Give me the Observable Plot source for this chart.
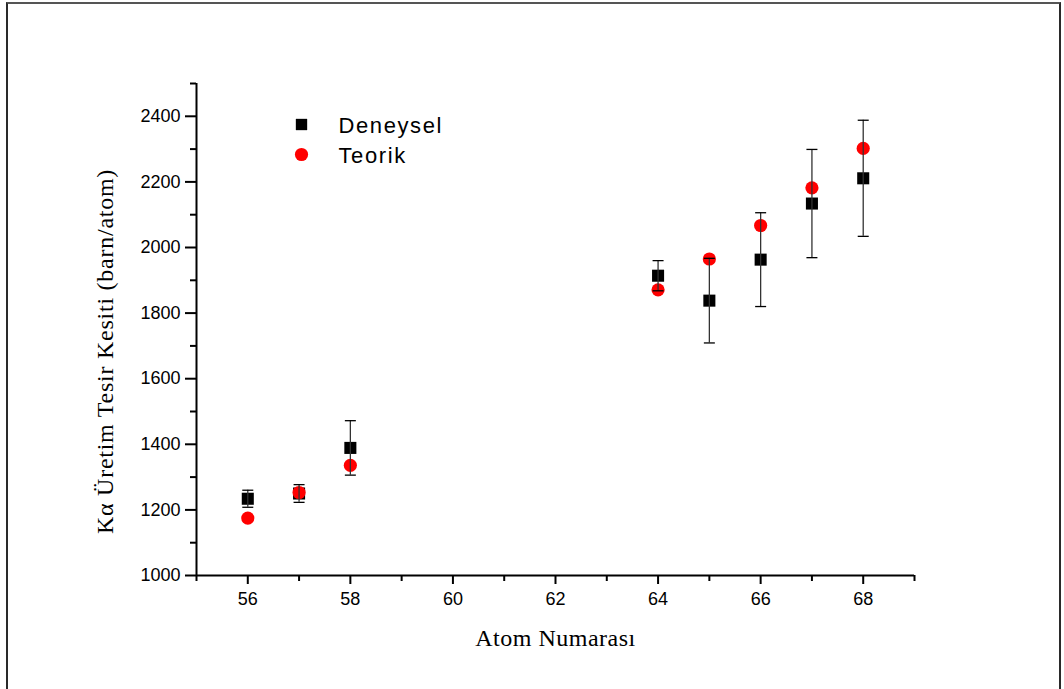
<!DOCTYPE html>
<html>
<head>
<meta charset="utf-8">
<script src="https://cdn.jsdelivr.net/npm/d3@7"></script>
<script src="https://cdn.jsdelivr.net/npm/@observablehq/plot@0.6"></script>
<style>
  html, body { margin: 0; padding: 0; background: #fff; overflow: hidden; }
  #wrap { position: relative; width: 1064px; height: 689px; }
  #frame { position: absolute; left: 6px; top: 2px; width: 1051px; height: 720px;
           border: 2px solid #2a2a2a; border-top-color: #555; box-sizing: content-box; }
  #chart { position: absolute; left: 0; top: 0; }
  .legtext text { letter-spacing: 1.6px; }
  .axlabel text { letter-spacing: 0.5px; }
  .ylabel text { letter-spacing: 0.75px; }
</style>
</head>
<body>
<div id="wrap"><div id="frame"></div><div id="chart"></div></div>
<script>
// ---- data ----
const atomNo   = [56, 57, 58, 64, 65, 66, 67, 68];
const deneysel = [1234, 1250, 1389, 1914, 1838, 1963, 2134, 2211];
const hata     = [26, 27, 83, 46, 129, 143, 165, 177];
const teorik   = [1175, 1253, 1336, 1871, 1965, 2067, 2182, 2302];

const xMajor = [56, 58, 60, 62, 64, 66, 68];
const xMinor = [55, 57, 59, 61, 63, 65, 67, 69];
const yMajor = [1000, 1200, 1400, 1600, 1800, 2000, 2200, 2400];
const yMinor = [1100, 1300, 1500, 1700, 1900, 2100, 2300, 2500];

const seriesNames = ["Deneysel", "Teorik"];
const xTitle = "Atom Numarası";
const yTitle = "Kα Üretim Tesir Kesiti (barn/atom)";

const exp = atomNo.map((z, i) => ({z, v: deneysel[i], lo: deneysel[i] - hata[i], hi: deneysel[i] + hata[i]}));
const th  = atomNo.map((z, i) => ({z, v: teorik[i]}));

const capSymbol = {
  draw(ctx, size) { const w = 5.5; ctx.moveTo(-w, 0); ctx.lineTo(w, 0); }
};

const sans = "Liberation Sans, Arial, sans-serif";
const serif = "Liberation Serif, Times New Roman, serif";

const chart = Plot.plot({
  width: 1064,
  height: 689,
  marginLeft: 196,
  marginRight: 150,
  marginTop: 83,
  marginBottom: 114,
  style: {fontFamily: sans, fontSize: "18px", color: "#000", background: "transparent"},
  x: {domain: [55, 69]},
  y: {domain: [1000, 2500]},
  marks: [
    Plot.axisX({ticks: xMajor, tickSize: 9, tickPadding: 8, strokeWidth: 2, tickFormat: d => String(d), label: null, fontSize: 18}),
    Plot.axisX({ticks: xMinor, tickSize: 6, strokeWidth: 2, tickFormat: () => "", label: null}),
    Plot.axisY({ticks: yMajor, tickSize: 11, tickPadding: 5, strokeWidth: 2, tickFormat: d => String(d), label: null, fontSize: 18}),
    Plot.axisY({ticks: yMinor, tickSize: 6, strokeWidth: 2, tickFormat: () => "", label: null}),
    Plot.ruleX([55], {strokeWidth: 2}),
    Plot.ruleY([1000], {strokeWidth: 2}),
    // experimental squares
    Plot.dot(exp, {x: "z", y: "v", symbol: "square", r: 6.8, fill: "#000", stroke: "none"}),
    // theoretical circles
    Plot.dot(th, {x: "z", y: "v", symbol: "circle", r: 6.6, fill: "#ff0000", stroke: "none"}),
    // error bars
    Plot.ruleX(exp, {x: "z", y1: "lo", y2: "hi", stroke: "#333", strokeWidth: 1.3}),
    Plot.dot(exp, {x: "z", y: "lo", symbol: capSymbol, stroke: "#000", fill: "none", strokeWidth: 1.3}),
    Plot.dot(exp, {x: "z", y: "hi", symbol: capSymbol, stroke: "#000", fill: "none", strokeWidth: 1.3}),
    // legend
    Plot.dot([seriesNames[0]], {frameAnchor: "top-left", dx: 105, dy: 41, symbol: "square", r: 6.4, fill: "#000", stroke: "none"}),
    Plot.dot([seriesNames[1]], {frameAnchor: "top-left", dx: 105, dy: 71, symbol: "circle", r: 6.6, fill: "#ff0000", stroke: "none"}),
    Plot.text([seriesNames[0]], {text: d => d, frameAnchor: "top-left", dx: 142, dy: 42, textAnchor: "start", lineAnchor: "middle", fontSize: 22, fontFamily: sans, fill: "#000", className: "legtext"}),
    Plot.text([seriesNames[1]], {text: d => d, frameAnchor: "top-left", dx: 142, dy: 72, textAnchor: "start", lineAnchor: "middle", fontSize: 22, fontFamily: sans, fill: "#000", className: "legtext"}),
    // axis titles
    Plot.text([xTitle], {text: d => d, frameAnchor: "bottom", dy: 63, textAnchor: "middle", lineAnchor: "middle", fontSize: 24, fontFamily: serif, fill: "#000", className: "axlabel"}),
    Plot.text([yTitle], {text: d => d, frameAnchor: "left", dx: -91, dy: 22, rotate: -90, textAnchor: "middle", lineAnchor: "middle", fontSize: 24, fontFamily: serif, fill: "#000", className: "ylabel"})
  ]
});
document.getElementById("chart").appendChild(chart);
</script>
</body>
</html>
